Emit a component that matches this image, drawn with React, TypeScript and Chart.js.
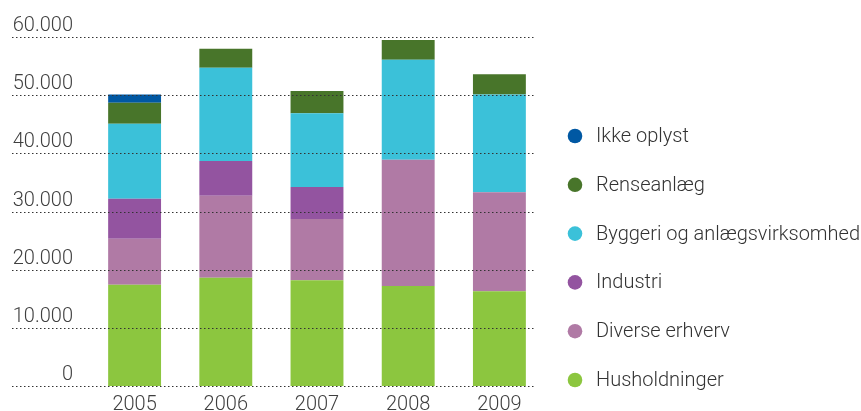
import React, { useEffect, useRef } from "react";
import { Chart, registerables } from "chart.js";

Chart.register(...registerables);

// ---- data ----
const years = ["2005", "2006", "2007", "2008", "2009"];
const husholdninger = [17400, 18600, 18200, 17200, 16300];
const diverseErhverv = [7900, 14100, 10500, 21700, 17000];
const industri = [6900, 6000, 5500, 0, 0];
const byggeri = [12900, 16000, 12700, 17200, 16800];
const renseanlaeg = [3600, 3300, 3800, 3400, 3500];
const ikkeOplyst = [1400, 0, 0, 0, 0];
const yTickValues = [0, 10000, 20000, 30000, 40000, 50000, 60000];

const FONT = "Roboto, 'Noto Sans', sans-serif";

const fmt = (v: number) => String(v).replace(/\B(?=(\d{3})+(?!\d))/g, ".");

const dottedGridPlugin = {
  id: "dottedGrid",
  afterDatasetsDraw(chart: any) {
    const { ctx, chartArea, scales } = chart;
    const y = scales.y;
    ctx.save();
    ctx.font = `300 20px ${FONT}`;
    ctx.textAlign = "right";
    ctx.textBaseline = "alphabetic";
    yTickValues.forEach((v) => {
      const py = Math.round(y.getPixelForValue(v)) + 0.5;
      ctx.strokeStyle = "#333";
      ctx.lineWidth = 1;
      ctx.setLineDash([1.5, 2.5]);
      ctx.beginPath();
      ctx.moveTo(12, py);
      ctx.lineTo(chartArea.right - 10, py);
      ctx.stroke();
      ctx.setLineDash([]);
      ctx.fillStyle = "#3f3f3f";
      ctx.fillText(fmt(v), 73, py - 7);
    });
    ctx.restore();
  },
};

const sideLegendPlugin = {
  id: "sideLegend",
  afterDraw(chart: any) {
    const { ctx } = chart;
    const items = [...chart.data.datasets].reverse();
    const x0 = 575;
    const top = 136;
    const step = 48.8;
    ctx.save();
    ctx.font = `300 20px ${FONT}`;
    ctx.textAlign = "left";
    ctx.textBaseline = "middle";
    items.forEach((ds: any, i: number) => {
      const cy = top + i * step;
      ctx.fillStyle = ds.backgroundColor;
      ctx.beginPath();
      ctx.arc(x0, cy, 7.3, 0, Math.PI * 2);
      ctx.fill();
      ctx.fillStyle = "#333";
      ctx.fillText(ds.label, x0 + 21, cy + 1);
    });
    ctx.restore();
  },
};

export default function App() {
  const ref = useRef<HTMLCanvasElement | null>(null);

  useEffect(() => {
    if (!ref.current) return;
    const chart = new Chart(ref.current, {
      type: "bar",
      data: {
        labels: years,
        datasets: [
          { label: "Husholdninger", data: husholdninger, backgroundColor: "#8cc63f" },
          { label: "Diverse erhverv", data: diverseErhverv, backgroundColor: "#b07aa5" },
          { label: "Industri", data: industri, backgroundColor: "#9354a0" },
          { label: "Byggeri og anlægsvirksomhed", data: byggeri, backgroundColor: "#3bc1d9" },
          { label: "Renseanlæg", data: renseanlaeg, backgroundColor: "#48752a" },
          { label: "Ikke oplyst", data: ikkeOplyst, backgroundColor: "#0058a3" },
        ],
      },
      options: {
        animation: false,
        responsive: false,
        maintainAspectRatio: false,
        layout: { padding: { left: 89, right: 316, top: 37, bottom: 0 } },
        datasets: { bar: { barPercentage: 0.58, categoryPercentage: 1, borderWidth: 0 } },
        plugins: {
          legend: { display: false },
          tooltip: { enabled: false },
        },
        scales: {
          x: {
            stacked: true,
            grid: { display: false, drawTicks: false },
            border: { display: false },
            afterFit: (scale: any) => {
              scale.height = 25;
            },
            ticks: {
              color: "#3f3f3f",
              padding: 9,
              font: { family: FONT, size: 20, weight: "300", lineHeight: 1 },
            },
          },
          y: {
            stacked: true,
            display: false,
            min: 0,
            max: 60000,
            ticks: { stepSize: 10000 },
          },
        },
      },
      plugins: [dottedGridPlugin, sideLegendPlugin],
    });
    return () => chart.destroy();
  }, []);

  return (
    <div style={{ position: "fixed", left: 0, top: 0, width: 861, height: 411, background: "#fff" }}>
      <canvas ref={ref} width={861} height={411} style={{ width: 861, height: 411, display: "block" }} />
    </div>
  );
}
